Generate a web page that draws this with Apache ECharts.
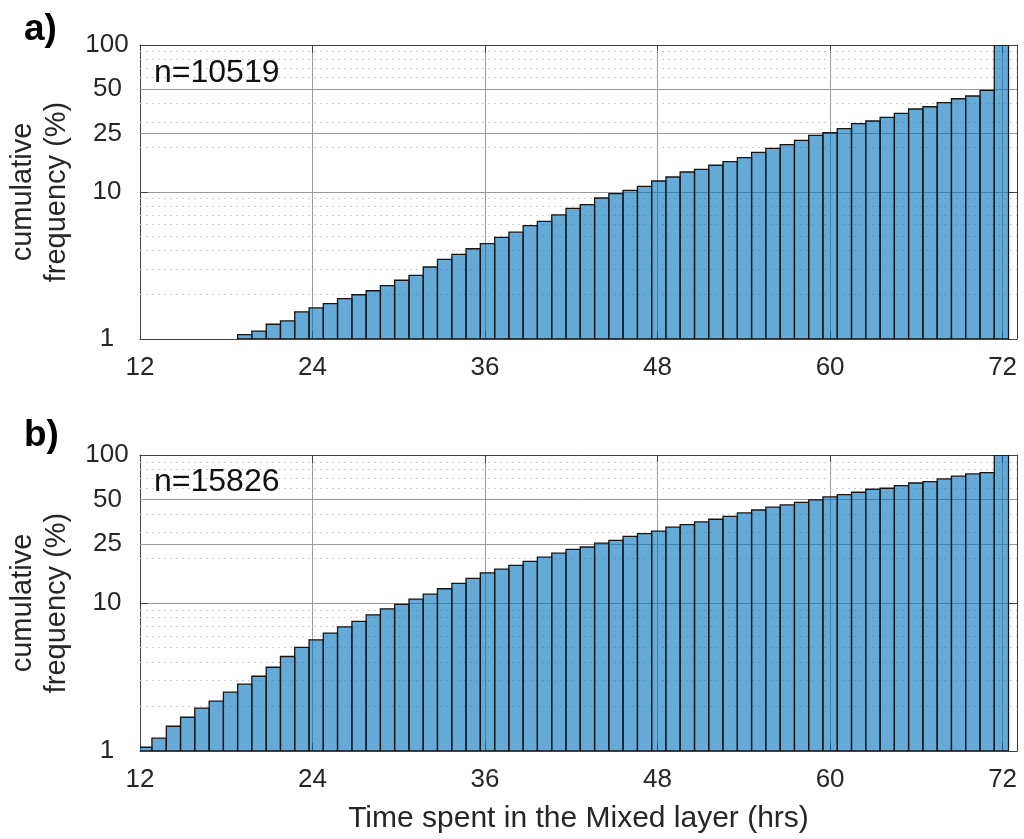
<!DOCTYPE html>
<html>
<head>
<meta charset="utf-8">
<title>Cumulative frequency of time spent in the mixed layer</title>
<script src="https://cdn.jsdelivr.net/npm/echarts@6/dist/echarts.min.js"></script>
<style>
  html, body { margin: 0; padding: 0; background: #fff; }
  #chart { width: 1024px; height: 839px; }
</style>
</head>
<body>
<div id="chart"></div>
<script>
// histogram bin edges (hrs), same bins in both panels
const binEdges = [
  11.84, 12.83, 13.83, 14.82, 15.81, 16.81, 17.80, 18.79, 19.78, 20.78,
  21.77, 22.76, 23.76, 24.75, 25.74, 26.74, 27.73, 28.72, 29.71, 30.71,
  31.70, 32.69, 33.69, 34.68, 35.67, 36.67, 37.66, 38.65, 39.64, 40.64,
  41.63, 42.62, 43.62, 44.61, 45.60, 46.60, 47.59, 48.58, 49.57, 50.57,
  51.56, 52.55, 53.55, 54.54, 55.53, 56.53, 57.52, 58.51, 59.50, 60.50,
  61.49, 62.48, 63.48, 64.47, 65.46, 66.46, 67.45, 68.44, 69.43, 70.43,
  71.42, 72.41
];

// cumulative frequency (%) per bin, panel a
const cumFreqA = [
  0.12, 0.2, 0.3, 0.42, 0.57, 0.72, 0.9, 1.07, 1.13, 1.26,
  1.33, 1.53, 1.63, 1.74, 1.88, 2.0, 2.13, 2.31, 2.51, 2.71,
  3.09, 3.48, 3.77, 4.11, 4.45, 4.92, 5.33, 5.9, 6.32, 6.98,
  7.74, 8.2, 9.1, 9.74, 10.26, 10.93, 11.88, 12.65, 13.68, 14.27,
  15.2, 16.08, 17.12, 18.62, 19.83, 20.98, 22.48, 24.3, 25.3, 26.97,
  29.16, 30.41, 32.2, 34.3, 36.7, 38.0, 40.5, 43.1, 45.0, 49.2,
  100
];

// cumulative frequency (%) per bin, panel b
const cumFreqB = [
  1.06, 1.22, 1.47, 1.69, 1.95, 2.17, 2.5, 2.83, 3.2, 3.68,
  4.35, 5.01, 5.64, 6.26, 6.9, 7.51, 8.32, 9.14, 9.79, 10.63,
  11.48, 12.48, 13.57, 14.67, 16.0, 16.96, 17.97, 19.1, 20.4, 21.7,
  23.0, 23.9, 25.4, 26.5, 28.2, 29.4, 30.6, 32.6, 33.8, 35.3,
  36.8, 38.5, 40.6, 42.5, 44.4, 46.0, 47.9, 49.7, 52.1, 54.0,
  56.0, 58.7, 59.6, 62.1, 64.7, 66.1, 68.9, 71.9, 74.5, 76.0,
  100
];

const panelLetters = ['a)', 'b)'];
const sampleSizes = [10519, 15826];

// axis settings
const xMin = 12, xMax = 73, xStep = 12;
const yMin = 1, yMax = 100;
const yExtraTicks = [25, 50];                                  // labelled, solid grid
const yMinorTicks = [2, 3, 4, 5, 6, 7, 8, 9, 20, 30, 40, 60, 70, 80, 90]; // dotted grid

const FONT = '"Liberation Sans", Arial, Helvetica, sans-serif';
const TEXT = '#262626';
const AXIS = '#404040';
const GRID = '#9a9a9a';

const chart = echarts.init(document.getElementById('chart'));

const grids = [
  { left: 140, top: 45, width: 877, height: 294 },
  { left: 140, top: 455, width: 877, height: 296 }
];

const xAxes = [];
const yAxes = [];
const series = [];

grids.forEach((g, i) => {
  // bottom x axis
  xAxes.push({
    type: 'value', gridIndex: i, min: xMin, max: xMax, interval: xStep,
    axisLine: { show: true, lineStyle: { color: AXIS, width: 1 } },
    axisTick: { show: true, inside: true, length: 8, lineStyle: { color: AXIS } },
    axisLabel: { fontSize: 26, fontFamily: FONT, color: TEXT, margin: 16, showMaxLabel: false },
    splitLine: { show: true, lineStyle: { color: GRID, width: 1 } },
    name: i === 1 ? 'Time spent in the Mixed layer (hrs)' : '',
    nameLocation: 'middle', nameGap: 53,
    nameTextStyle: { fontSize: 30, fontFamily: FONT, color: TEXT }
  });
  // top x axis (box)
  xAxes.push({
    type: 'value', gridIndex: i, position: 'top', min: xMin, max: xMax, interval: xStep,
    axisLine: { show: true, onZero: false, lineStyle: { color: AXIS, width: 1 } },
    axisTick: { show: true, inside: true, length: 8, lineStyle: { color: AXIS } },
    axisLabel: { show: false },
    splitLine: { show: false }
  });
  // left y axis (log)
  yAxes.push({
    type: 'log', logBase: 10, gridIndex: i, min: yMin, max: yMax,
    axisLine: { show: true, lineStyle: { color: AXIS, width: 1 } },
    axisTick: { show: true, inside: true, length: 8, lineStyle: { color: AXIS } },
    axisLabel: {
      fontSize: 26, fontFamily: FONT, color: TEXT, margin: 33, align: 'center',
      padding: [7, 0, 0, 0]
    },
    splitLine: { show: true, lineStyle: { color: GRID, width: 1 } },
    name: 'cumulative\nfrequency (%)',
    nameLocation: 'middle', nameRotate: 90, nameGap: 62,
    nameTextStyle: { fontSize: 29, lineHeight: 34, fontFamily: FONT, color: TEXT, align: 'center' }
  });
  // right y axis (box)
  yAxes.push({
    type: 'log', logBase: 10, gridIndex: i, position: 'right', min: yMin, max: yMax,
    axisLine: { show: true, onZero: false, lineStyle: { color: AXIS, width: 1 } },
    axisTick: { show: true, inside: true, length: 8, lineStyle: { color: AXIS } },
    axisLabel: { show: false },
    splitLine: { show: false }
  });
});

function histSeries(values, i) {
  return {
    type: 'custom',
    xAxisIndex: i * 2, yAxisIndex: i * 2,
    clip: true,
    z: 2,
    silent: true,
    animation: false,
    data: values.map((v, k) => [binEdges[k], binEdges[k + 1], v]),
    encode: { x: [0, 1], y: 2 },
    renderItem: function (params, api) {
      const v = api.value(2);
      if (!(v > yMin)) return null;
      const tl = api.coord([api.value(0), v]);
      const br = api.coord([api.value(1), yMin]);
      return {
        type: 'rect',
        shape: { x: tl[0], y: tl[1], width: br[0] - tl[0], height: br[1] - tl[1] },
        style: { fill: 'rgba(0,114,189,0.6)', stroke: '#141414', lineWidth: 1.3 }
      };
    }
  };
}

// extra log grid lines (25, 50 labelled; minor dotted)
function gridLineSeries(i) {
  const data = [];
  yMinorTicks.forEach(v => data.push({
    yAxis: v,
    label: { show: false },
    lineStyle: { type: [2, 4], color: '#cfcfcf', width: 1 }
  }));
  yExtraTicks.forEach(v => data.push({
    yAxis: v,
    label: {
      show: true, position: 'start', distance: 18, formatter: String(v),
      fontSize: 26, fontFamily: FONT, color: TEXT, padding: [7, 0, 0, 0]
    },
    lineStyle: { type: 'solid', color: GRID, width: 1 }
  }));
  return {
    type: 'line', xAxisIndex: i * 2, yAxisIndex: i * 2, data: [],
    silent: true, animation: false,
    markLine: { z: 1, silent: true, symbol: 'none', animation: false, data: data }
  };
}

series.push(gridLineSeries(0), gridLineSeries(1));
series.push(histSeries(cumFreqA, 0), histSeries(cumFreqB, 1));

const letterTop = [11, 417];
const nTop = [57, 466];
const graphics = [];
panelLetters.forEach((txt, i) => {
  graphics.push({
    type: 'text', left: 24, top: letterTop[i], z: 10,
    style: { text: txt, fontSize: 37, fontWeight: 'bold', fontFamily: FONT, fill: '#000' }
  });
  graphics.push({
    type: 'text', left: 154, top: nTop[i], z: 10,
    style: { text: 'n=' + sampleSizes[i], fontSize: 32, fontFamily: FONT, fill: '#111' }
  });
});

chart.setOption({
  animation: false,
  backgroundColor: '#fff',
  grid: grids.map(g => Object.assign({ containLabel: false, outerBoundsMode: 'none' }, g)),
  xAxis: xAxes,
  yAxis: yAxes,
  series: series,
  graphic: graphics
});
</script>
</body>
</html>
